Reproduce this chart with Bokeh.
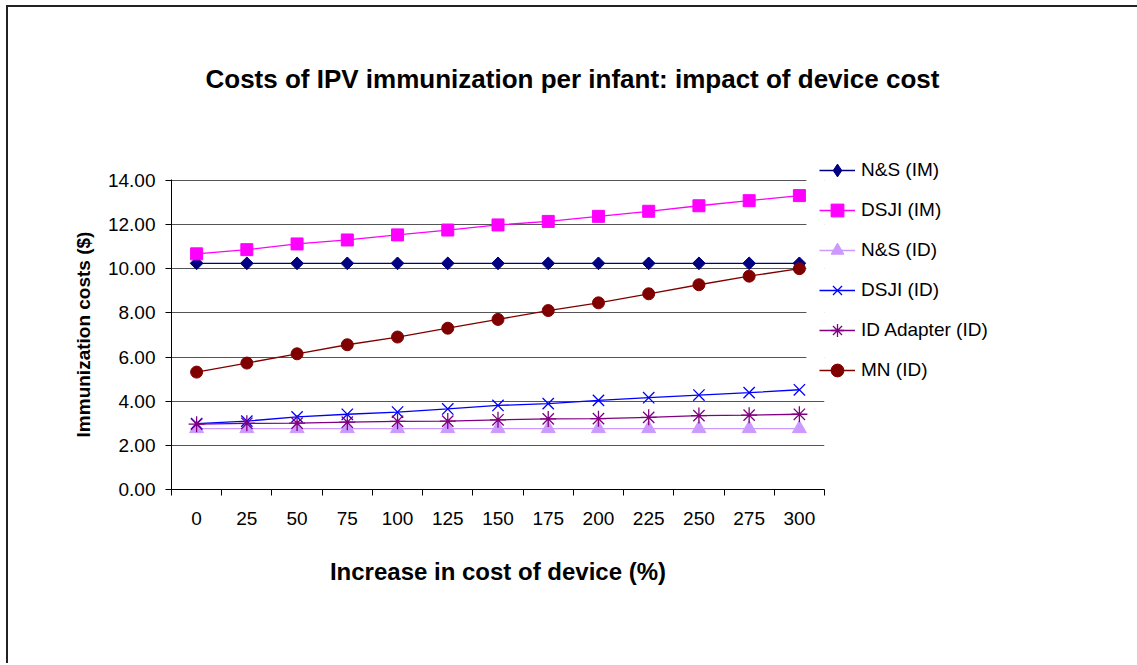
import numpy as np
from bokeh.plotting import figure
from bokeh.models import (Range1d, FixedTicker, NumeralTickFormatter, Legend, LegendItem,
                          LinearAxis, Title, Grid, BoxAnnotation)
from bokeh.embed import file_html
from bokeh.resources import INLINE

categories = ["0", "25", "50", "75", "100", "125", "150", "175", "200", "225", "250", "275", "300"]
ns_im = [10.25, 10.25, 10.25, 10.25, 10.25, 10.25, 10.25, 10.25, 10.25, 10.25, 10.25, 10.25, 10.25]
dsji_im = [10.68, 10.87, 11.13, 11.31, 11.54, 11.76, 11.99, 12.15, 12.38, 12.61, 12.86, 13.09, 13.32]
ns_id = [2.76, 2.76, 2.76, 2.76, 2.76, 2.76, 2.76, 2.76, 2.76, 2.76, 2.76, 2.76, 2.76]
dsji_id = [2.99, 3.10, 3.29, 3.41, 3.51, 3.65, 3.81, 3.89, 4.04, 4.16, 4.28, 4.39, 4.52]
adapter_id = [2.96, 3.00, 3.01, 3.05, 3.09, 3.10, 3.16, 3.20, 3.21, 3.27, 3.35, 3.37, 3.41]
mn_id = [5.32, 5.73, 6.15, 6.56, 6.91, 7.31, 7.71, 8.11, 8.46, 8.87, 9.28, 9.67, 10.01]
y_ticks = [0, 2, 4, 6, 8, 10, 12, 14]

FONT = "Liberation Sans"

idx = list(range(len(categories)))
boundaries = [i - 0.5 for i in range(len(categories) + 1)]

p = figure(frame_width=653, frame_height=310,
           min_border_left=163, min_border_right=311, min_border_top=172, min_border_bottom=174,
           x_range=Range1d(-0.5, len(categories) - 0.5), y_range=Range1d(0, 14.05),
           output_backend="svg", toolbar_location=None, x_axis_type=None, y_axis_type=None,
           styles={"margin-left": "6px", "margin-top": "5px",
                   "border-top": "2px solid #222", "border-left": "2px solid #222"})
p.outline_line_color = None
p.background_fill_color = "white"
p.border_fill_color = "white"

# spacer between the plot area and the title
spacer = Title(text=" ", text_font_size="1px", standoff=78)
p.add_layout(spacer, "above")
title = Title(text="Costs of IPV immunization per infant: impact of device cost",
              align="left", offset=34, text_font=FONT, text_font_size="26px",
              text_font_style="bold", text_color="black", standoff=10)
p.add_layout(title, "above")

# x axis (category labels centred, ticks on boundaries)
xaxis = LinearAxis(ticker=FixedTicker(ticks=idx, minor_ticks=boundaries))
xaxis.major_label_overrides = {i: c for i, c in zip(idx, categories)}
xaxis.major_tick_out = 0
xaxis.major_tick_in = 0
xaxis.minor_tick_out = 6
xaxis.minor_tick_in = 0
xaxis.minor_tick_line_color = "black"
xaxis.axis_line_color = "black"
xaxis.major_label_text_font = FONT
xaxis.major_label_text_font_size = "19px"
xaxis.major_label_text_color = "black"
xaxis.major_label_standoff = 16
xaxis.axis_label = "Increase in cost of device (%)"
xaxis.axis_label_text_font = FONT
xaxis.axis_label_text_font_size = "24px"
xaxis.axis_label_text_font_style = "bold"
xaxis.axis_label_text_color = "black"
xaxis.axis_label_standoff = 30
p.add_layout(xaxis, "below")

yaxis = LinearAxis(ticker=FixedTicker(ticks=y_ticks), formatter=NumeralTickFormatter(format="0.00"))
yaxis.major_tick_out = 6
yaxis.major_tick_in = 0
yaxis.minor_tick_out = 0
yaxis.minor_tick_in = 0
yaxis.axis_line_color = "black"
yaxis.major_tick_line_color = "black"
yaxis.major_label_text_font = FONT
yaxis.major_label_text_font_size = "19px"
yaxis.major_label_text_color = "black"
yaxis.major_label_standoff = 10
yaxis.axis_label = "Immunization costs ($)"
yaxis.axis_label_text_font = FONT
yaxis.axis_label_text_font_size = "19px"
yaxis.axis_label_text_font_style = "bold"
yaxis.axis_label_text_color = "black"
yaxis.axis_label_standoff = 11
p.add_layout(yaxis, "left")

p.ygrid.visible = False
p.xgrid.visible = False
grid = Grid(dimension=1, ticker=FixedTicker(ticks=y_ticks[1:]), grid_line_color="#555555",
            grid_line_width=1)
p.add_layout(grid)

# white area behind the legend box that hides the gridline ends
p.add_layout(BoxAnnotation(left=12.14, right=12.6, bottom=4.35, top=14.5,
                           fill_color="white", fill_alpha=1.0, line_color=None))

series = [
    ("N&S (IM)", ns_im, "#000080", "square", 9, np.pi / 4, "diamond"),
    ("DSJI (IM)", dsji_im, "#FF00FF", "square", 12, 0, None),
    ("N&S (ID)", ns_id, "#CC99FF", "triangle", 14, 0, None),
    ("DSJI (ID)", dsji_id, "#0000FF", "x", 16, 0, None),
    ("ID Adapter (ID)", adapter_id, "#800080", "asterisk", 16, 0, None),
    ("MN (ID)", mn_id, "#800000", "circle", 12, 0, None),
]

items = []
for label, vals, color, marker, size, angle, legend_marker in series:
    lr = p.line(idx, vals, line_color=color, line_width=1.3)
    proxy = None
    if legend_marker is not None:
        # diamond used for the legend; hidden under the plotted markers
        proxy = p.scatter(idx, vals, marker=legend_marker, size=11, line_color=color,
                          fill_color=color)
    if marker in ("x", "asterisk"):
        sr = p.scatter(idx, vals, marker=marker, size=size, line_color=color, line_width=1.3,
                       fill_color=None)
    else:
        sr = p.scatter(idx, vals, marker=marker, size=size, angle=angle, line_color=color,
                       fill_color=color, line_width=1)
    items.append(LegendItem(label=label, renderers=[lr, proxy if proxy is not None else sr]))

legend = Legend(items=items, location=(-5, 103), orientation="vertical",
                glyph_width=36, glyph_height=32, label_height=32, spacing=8,
                label_standoff=6, padding=0, margin=0,
                label_text_font=FONT, label_text_font_size="19px", label_text_color="black",
                background_fill_alpha=0.0, border_line_color=None)
p.add_layout(legend, "right")

open("out.html", "w").write(file_html(p, INLINE))
